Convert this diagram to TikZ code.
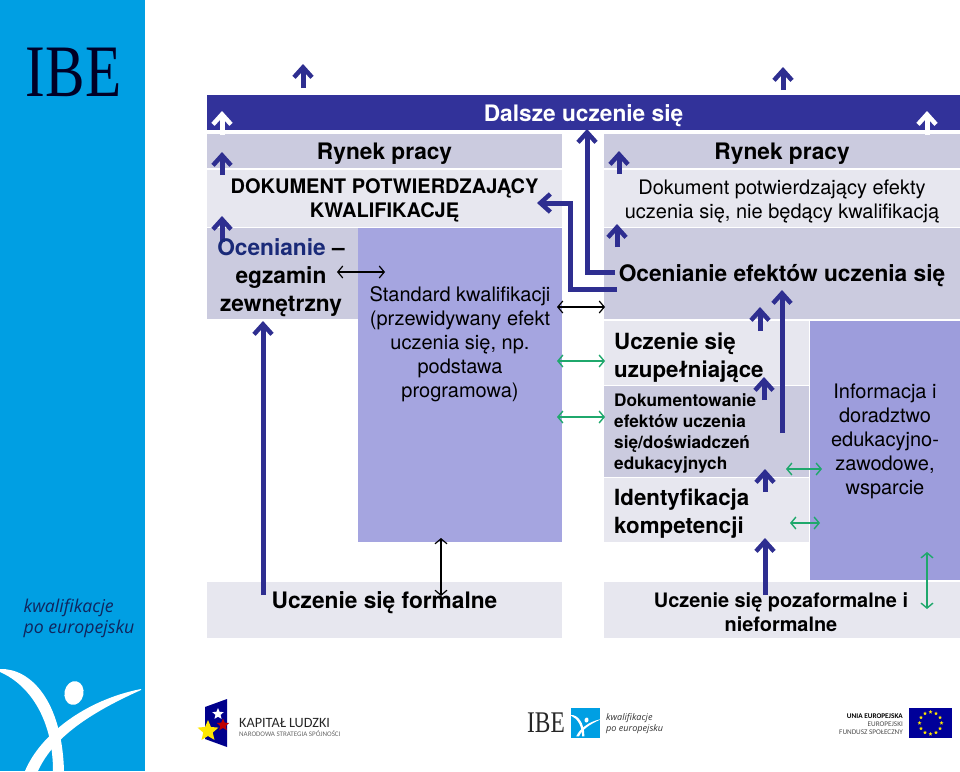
\documentclass[tikz,border=0pt]{standalone}
\usepackage{fontspec}
\setmainfont{TeX Gyre Heros}
\newfontfamily\logoserif{Liberation Serif}
\newfontfamily\logosans{Open Sans}
\newfontfamily\logonarrow{Carlito}
\usetikzlibrary{arrows.meta,shapes.geometric}
\definecolor{sidebarblue}{HTML}{009FE3}
\definecolor{bandblue}{HTML}{32329A}
\definecolor{arrowblue}{HTML}{2E2E90}
\definecolor{bandgrey}{HTML}{CBCBDF}
\definecolor{bandlight}{HTML}{E7E7EF}
\definecolor{standardfill}{HTML}{A5A5E0}
\definecolor{infofill}{HTML}{9D9DDC}
\definecolor{arrowgreen}{HTML}{1FA86C}
\definecolor{logonavy}{HTML}{10265E}
\definecolor{examnavy}{HTML}{1A2A78}
\tikzset{
  band/.style={inner sep=0pt, outer sep=0pt, fill=#1},
  bigarrow/.style={draw=arrowblue, line width=5pt, -{Straight Barb[length=10pt,width=18pt,line width=4.5pt]}},
  whitearrow/.style={bigarrow, draw=white},
  thinarrow/.style={draw=black, line width=1.2pt, {Straight Barb[length=5pt,width=12pt]}-{Straight Barb[length=5pt,width=12pt]}},
  greenarrow/.style={thinarrow, draw=arrowgreen, line width=1.4pt},
  headtxt/.style={font=\fontsize{22.7}{28}\selectfont\bfseries, align=center, inner sep=0pt},
  stepnametxt/.style={headtxt, font=\fontsize{22.3}{27.5}\selectfont\bfseries, align=left, anchor=west},
  midtxt/.style={font=\fontsize{20}{24}\selectfont\bfseries, align=center, inner sep=0pt},
  smalltxt/.style={font=\fontsize{17.2}{21}\selectfont\bfseries, align=left, inner sep=0pt},
  plaintxt/.style={font=\fontsize{20}{24}\selectfont, align=center, inner sep=0pt},
  logotxt/.style={inner sep=0pt, text=logonavy, align=left},
}
\newcommand{\runnershape}{
  \fill[white] (0,669) .. controls (30,668) and (62,700) .. (64,771) -- (53,771) .. controls (53,720) and (30,685) .. (0,672) -- cycle;
  \fill[white] (141,689) .. controls (85,700) and (40,735) .. (25,771) -- (38,771) .. controls (52,740) and (85,715) .. (141,690) -- cycle;
  \fill[white, rotate around={-12:(74,693)}] (74,693) ellipse (9.5pt and 12pt);
}
\begin{document}
\begin{tikzpicture}[x=1pt,y=-1pt]
  \useasboundingbox (0,0) rectangle (960,771);
  % sidebar
  \fill[sidebarblue] (0,0) rectangle (145,771);
  \begin{scope}
    \clip (0,0) rectangle (145,771);
    \runnershape
  \end{scope}
  \node[logotxt, text=black!85!blue, font=\logoserif\fontsize{74}{74}\selectfont] (sideibe) at (73.5,72) {\scalebox{.8}[1]{IBE}};
  \node[logotxt, font=\logosans\itshape\fontsize{17.7}{22}\selectfont] (sidename) at (79,618) {kwalifikacje\\[-1pt]po europejsku};

  % bands
  \node[band=bandblue, minimum width=753pt, minimum height=35pt] (furtherband) at (583.5,112.5) {};
  \node[band=bandgrey, minimum width=355pt, minimum height=34pt] (marketL) at (384.5,151) {};
  \node[band=bandlight, minimum width=355pt, minimum height=57pt] (docL) at (384.5,198.5) {};
  \node[band=bandgrey, minimum width=151pt, minimum height=91pt] (examL) at (282.5,273.5) {};
  \node[band=standardfill, minimum width=204pt, minimum height=314pt] (standardL) at (460,385) {};
  \node[band=bandlight, minimum width=355pt, minimum height=56pt] (formalL) at (384.5,610) {};
  \node[band=bandgrey, minimum width=356pt, minimum height=34pt] (marketR) at (782,151) {};
  \node[band=bandlight, minimum width=356pt, minimum height=57pt] (docR) at (782,198.5) {};
  \node[band=bandgrey, minimum width=356pt, minimum height=91pt] (assessR) at (782,273.5) {};
  \node[band=bandlight, minimum width=205pt, minimum height=64pt] (extraR) at (706.5,353) {};
  \node[band=bandgrey, minimum width=205pt, minimum height=91pt] (recordR) at (706.5,431.5) {};
  \node[band=bandlight, minimum width=205pt, minimum height=64pt] (identR) at (706.5,510) {};
  \node[band=infofill, minimum width=150pt, minimum height=259pt] (infoR) at (885,450.5) {};
  \node[band=bandlight, minimum width=356pt, minimum height=56pt] (informalR) at (782,610) {};

  % ends of the thick arrows
  \coordinate (a1s) at (303,88);   \coordinate (a1e) at (303,64);
  \coordinate (a2s) at (783,90);   \coordinate (a2e) at (783,67);
  \coordinate (w1s) at (222,135);  \coordinate (w1e) at (222,111);
  \coordinate (w2s) at (927,135);  \coordinate (w2e) at (927,111);
  \coordinate (a3s) at (222,175);  \coordinate (a3e) at (222,152);
  \coordinate (a4s) at (222,242);  \coordinate (a4e) at (222,216);
  \coordinate (a5s) at (263,595);  \coordinate (a5e) at (263,321);
  \coordinate (a6s) at (619,174);  \coordinate (a6e) at (619,151);
  \coordinate (a7s) at (617,247);  \coordinate (a7e) at (617,224);
  \coordinate (a8s) at (782,433);  \coordinate (a8e) at (782,290);
  \coordinate (a9s) at (760,331);  \coordinate (a9e) at (760,307);
  \coordinate (a10s) at (764,400); \coordinate (a10e) at (764,377);
  \coordinate (a11s) at (765,492); \coordinate (a11e) at (765,469);
  \coordinate (a12s) at (765,595); \coordinate (a12e) at (765,538);
  \coordinate (e1s) at (615,272);  \coordinate (e1m) at (587,272);  \coordinate (e1e) at (587,129);
  \coordinate (e2s) at (617,289);  \coordinate (e2m) at (570,289);  \coordinate (e2n) at (570,203);  \coordinate (e2e) at (537,203);

  % thick arrows
  \draw[bigarrow] (a1s) -- (a1e);
  \draw[bigarrow] (a2s) -- (a2e);
  \draw[whitearrow] (w1s) -- (w1e);
  \draw[whitearrow] (w2s) -- (w2e);
  \draw[bigarrow] (a3s) -- (a3e);
  \draw[bigarrow] (a4s) -- (a4e);
  \draw[bigarrow] (a5s) -- (a5e);
  \draw[bigarrow] (a6s) -- (a6e);
  \draw[bigarrow] (a7s) -- (a7e);
  \draw[bigarrow] (a8s) -- (a8e);
  \draw[bigarrow] (a9s) -- (a9e);
  \draw[bigarrow] (a10s) -- (a10e);
  \draw[bigarrow] (a11s) -- (a11e);
  \draw[bigarrow] (a12s) -- (a12e);
  \draw[bigarrow] (e1s) -- (e1m) -- (e1e);
  \draw[bigarrow] (e2s) -- (e2m) -- (e2n) -- (e2e);

  % labels
  \node[headtxt, text=white] (furthertxt) at (583.5,116) {Dalsze uczenie się};
  \node[headtxt] (marketLtxt) at (384.5,154) {Rynek pracy};
  \node[midtxt] (docLtxt) at (384.5,200) {DOKUMENT POTWIERDZAJĄCY\\KWALIFIKACJĘ};
  \node[headtxt] (examLtxt) at (281,278) {\textcolor{examnavy}{Ocenianie} --\\egzamin\\zewnętrzny};
  \node[plaintxt] (standardLtxt) at (460,344) {Standard kwalifikacji\\(przewidywany efekt\\uczenia się, np.\\podstawa\\programowa)};
  \node[headtxt] (formalLtxt) at (384.5,603) {Uczenie się formalne};
  \node[headtxt] (marketRtxt) at (782,154) {Rynek pracy};
  \node[plaintxt] (docRtxt) at (782,201) {Dokument potwierdzający efekty\\uczenia się, nie będący kwalifikacją};
  \node[headtxt] (assessRtxt) at (782,275.5) {Ocenianie efektów uczenia się};
  \node[stepnametxt] (extraRtxt) at (614,358) {Uczenie się\\uzupełniające};
  \node[smalltxt, anchor=west] (recordRtxt) at (614,433) {Dokumentowanie\\efektów uczenia\\się/doświadczeń\\edukacyjnych};
  \node[stepnametxt] (identRtxt) at (614,513.5) {Identyfikacja\\kompetencji};
  \node[plaintxt] (infoRtxt) at (885,441) {Informacja i\\doradztwo\\edukacyjno-\\zawodowe,\\wsparcie};
  \node[midtxt, font=\fontsize{19.9}{24}\selectfont\bfseries] (informalRtxt) at (781,612) {Uczenie się pozaformalne i\\nieformalne};

  % ends of the thin arrows
  \coordinate (t1s) at (337,272);  \coordinate (t1e) at (385,272);
  \coordinate (t2s) at (557,307);  \coordinate (t2e) at (605,307);
  \coordinate (t3s) at (441,538);  \coordinate (t3e) at (441,596);
  \coordinate (g1s) at (557,361);  \coordinate (g1e) at (605,361);
  \coordinate (g2s) at (557,417);  \coordinate (g2e) at (605,417);
  \coordinate (g3s) at (786,469);  \coordinate (g3e) at (822,469);
  \coordinate (g4s) at (790,523);  \coordinate (g4e) at (820,523);
  \coordinate (g5s) at (927,552);  \coordinate (g5e) at (927,609);

  % thin arrows
  \draw[thinarrow] (t1s) -- (t1e);
  \draw[thinarrow] (t2s) -- (t2e);
  \draw[thinarrow] (t3s) -- (t3e);
  \draw[greenarrow] (g1s) -- (g1e);
  \draw[greenarrow] (g2s) -- (g2e);
  \draw[greenarrow] (g3s) -- (g3e);
  \draw[greenarrow] (g4s) -- (g4e);
  \draw[greenarrow] (g5s) -- (g5e);

  % logo Kapital Ludzki
  \fill[blue!55!black] (205,707) -- (227,699) -- (227,747) -- (205,739) -- cycle;
  \node[star, star points=5, star point ratio=2.2, fill=white, minimum size=12pt, inner sep=0pt] (starwhite) at (218,714) {};
  \node[star, star points=5, star point ratio=2.2, fill=red!75!black, minimum size=13pt, inner sep=0pt] (starred) at (223,725) {};
  \node[star, star points=5, star point ratio=2.2, fill=yellow!90!orange, minimum size=22pt, inner sep=0pt] (staryellow) at (208,731) {};
  \node[inner sep=0pt, anchor=west, font=\logonarrow\fontsize{14.2}{14.5}\selectfont, text=black!85] (capitaltxt) at (239,723) {KAPITAŁ LUDZKI};
  \node[inner sep=0pt, anchor=west, font=\logonarrow\fontsize{7}{7}\selectfont, text=black!60] (capitalsub) at (239,734) {NARODOWA STRATEGIA SPÓJNOŚCI};

  % logo IBE
  \node[inner sep=0pt, text=black!85, font=\logoserif\fontsize{30}{30}\selectfont] (midibe) at (546,723) {\scalebox{.78}[1]{IBE}};
  \fill[sidebarblue] (571,708) rectangle (600,738);
  \begin{scope}[shift={(571,574.5)},scale=.21]
    \runnershape
  \end{scope}
  \node[inner sep=0pt, anchor=west, align=left, text=black!80, font=\logosans\itshape\fontsize{9.1}{11}\selectfont] (midname) at (606,723.5) {kwalifikacje\\po europejsku};

  % logo EU
  \node[inner sep=0pt, anchor=east, align=right, text=black!70, font=\logonarrow\fontsize{7.2}{8}\selectfont] (eutxt) at (903,724) {\textbf{\textcolor{black}{UNIA EUROPEJSKA}}\\EUROPEJSKI\\FUNDUSZ SPOŁECZNY};
  \fill[blue!60!black] (909,708) rectangle (952,738);
  \foreach \ang in {0,30,...,330} {
    \node[star, star points=5, star point ratio=2.2, fill=yellow!90!orange, minimum size=4pt, inner sep=0pt] at ([shift={(\ang:11pt)}]930.5,723) {};
  }
\end{tikzpicture}
\end{document}
